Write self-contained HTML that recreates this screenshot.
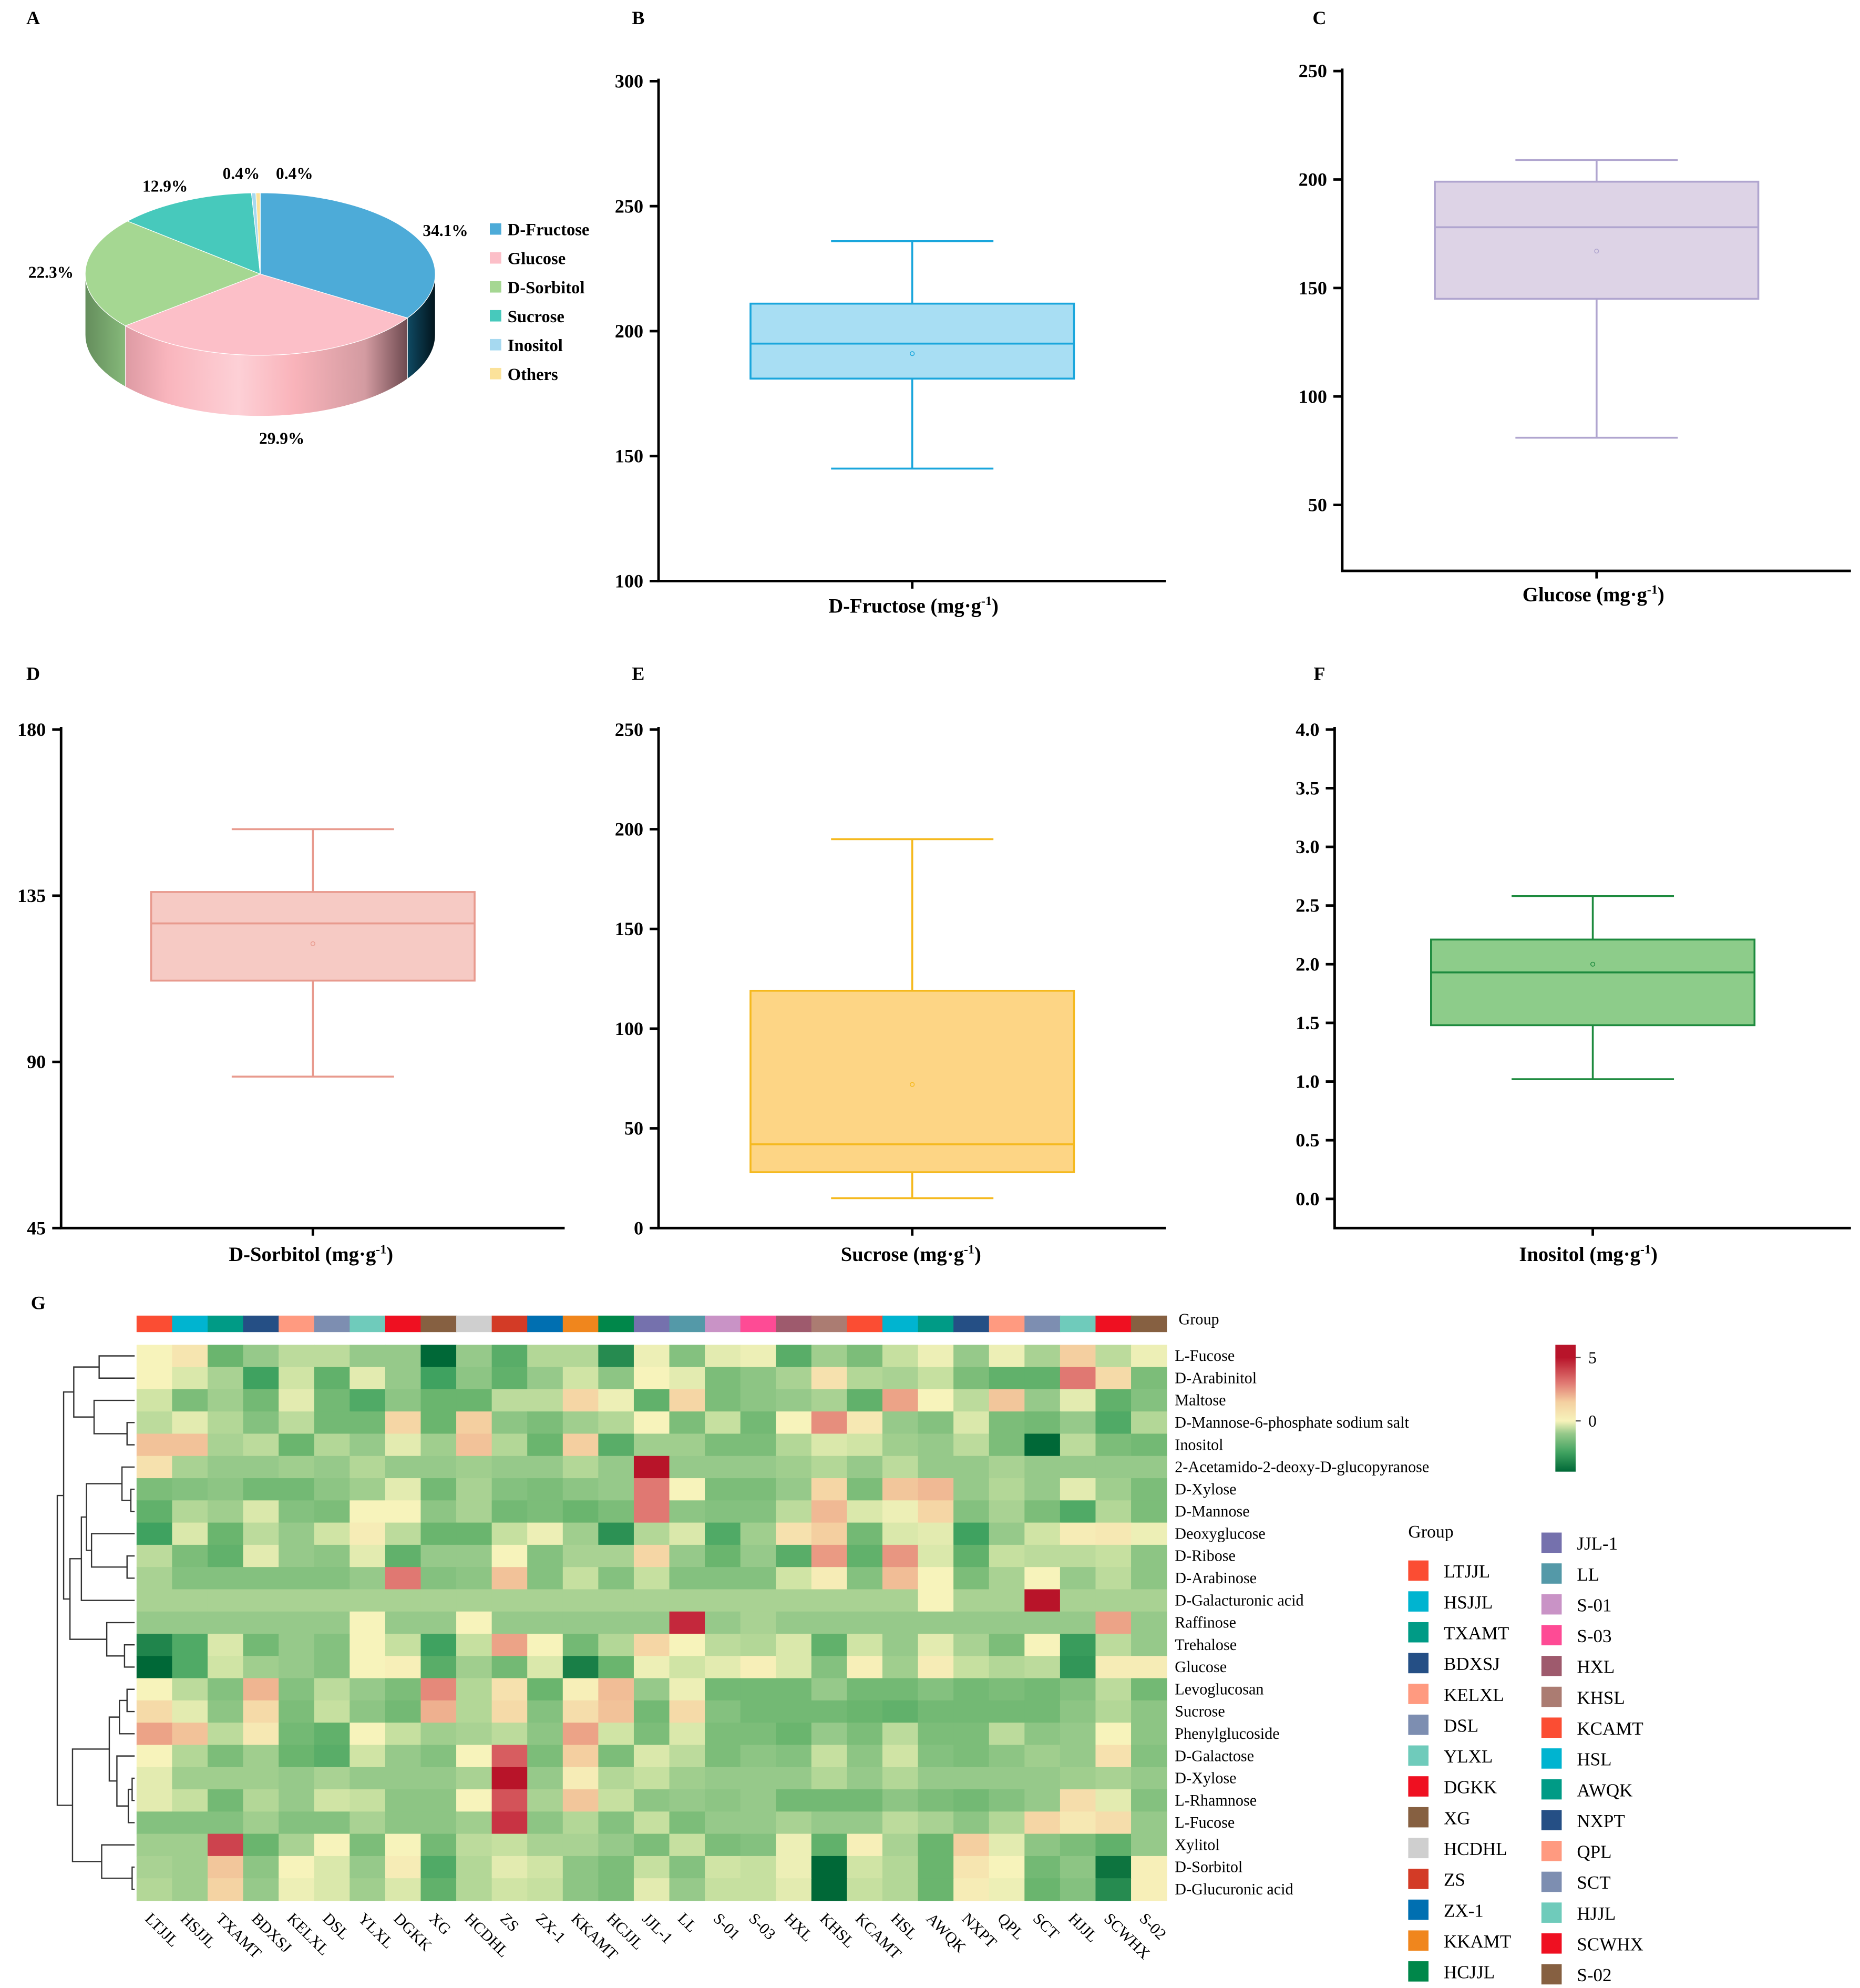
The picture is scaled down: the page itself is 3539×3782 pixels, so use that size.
<!DOCTYPE html>
<html><head><meta charset="utf-8">
<style>
html,body{margin:0;padding:0;background:#fff;}
svg{display:block;font-family:"Liberation Serif",serif;}
</style></head>
<body>
<svg id="fig" xmlns="http://www.w3.org/2000/svg" width="3539" height="3782" viewBox="0 0 1466 1567">
<defs>
<linearGradient id="gPink" x1="0" x2="1" y1="0" y2="0">
<stop offset="0" stop-color="#dd9aa3"/><stop offset="0.15" stop-color="#f9b5bd"/><stop offset="0.4" stop-color="#fdd0d6"/><stop offset="0.6" stop-color="#f9b3ba"/><stop offset="0.85" stop-color="#d39ba1"/><stop offset="1" stop-color="#6e4a50"/>
</linearGradient>
<linearGradient id="gBlue" x1="0" x2="1" y1="0" y2="0">
<stop offset="0" stop-color="#0f4a63"/><stop offset="1" stop-color="#02141c"/>
</linearGradient>
<linearGradient id="gGreen" x1="0" x2="1" y1="0" y2="0">
<stop offset="0" stop-color="#648d5c"/><stop offset="1" stop-color="#86b97a"/>
</linearGradient>
<linearGradient id="gBar" x1="0" x2="0" y1="0" y2="1">
<stop offset="0" stop-color="#b8142a"/><stop offset="0.1" stop-color="#b8142a"/><stop offset="0.3" stop-color="#e07872"/><stop offset="0.45" stop-color="#f4cfa0"/><stop offset="0.6" stop-color="#f7f3bb"/><stop offset="0.7" stop-color="#96c98a"/><stop offset="0.85" stop-color="#3fa260"/><stop offset="1" stop-color="#006837"/>
</linearGradient>
</defs>
<g id="root"></g>
</svg>
<script>
// ---------- Pie data ----------
const pieLabels = ["D-Fructose","Glucose","D-Sorbitol","Sucrose","Inositol","Others"];
const pieValues = [34.1, 29.9, 22.3, 12.9, 0.4, 0.4];
const pieColors = ["#4dabd8","#fcbfc8","#a5d792","#47c9bc","#a6d9f0","#fbe29a"];

// ---------- Box plot data ----------
const boxTitles = ["D-Fructose","Glucose","D-Sorbitol","Sucrose","Inositol"];
const boxMin = [145, 81, 86, 15, 1.02];
const boxQ1 = [181, 145, 112, 28, 1.48];
const boxMed = [195, 178, 127.5, 42, 1.93];
const boxQ3 = [211, 199, 136, 119, 2.21];
const boxMax = [236, 209, 153, 195, 2.58];
const boxMean = [191, 167, 122, 72, 2.0];
const boxTicksB = [100,150,200,250,300];
const boxTicksC = [50,100,150,200,250];
const boxTicksD = [45,90,135,180];
const boxTicksE = [0,50,100,150,200,250];
const boxTicksF = [0,0.5,1,1.5,2,2.5,3,3.5,4];

// ---------- Heatmap data ----------
const heatRows = ["L-Fucose","D-Arabinitol","Maltose","D-Mannose-6-phosphate sodium salt","Inositol","2-Acetamido-2-deoxy-D-glucopyranose","D-Xylose","D-Mannose","Deoxyglucose","D-Ribose","D-Arabinose","D-Galacturonic acid","Raffinose","Trehalose","Glucose","Levoglucosan","Sucrose","Phenylglucoside","D-Galactose","D-Xylose","L-Rhamnose","L-Fucose","Xylitol","D-Sorbitol","D-Glucuronic acid"];
const heatGroups = ["LTJJL","HSJJL","TXAMT","BDXSJ","KELXL","DSL","YLXL","DGKK","XG","HCDHL","ZS","ZX-1","KKAMT","HCJJL","JJL-1","LL","S-01","S-03","HXL","KHSL","KCAMT","HSL","AWQK","NXPT","QPL","SCT","HJJL","SCWHX","S-02"];
const groupColors = ["#fb4d33","#00b4d0","#009b86","#254f85","#ff9a80","#7d8eb1","#6fcbbb","#ef1021","#866041","#cfcfcf","#d33b26","#006fb1","#f0861d","#00874a","#7571ad","#5499a8","#c993c6","#fe4b95","#9e5a6d","#ab7c72","#fb4d33","#00b4d0","#009b86","#254f85","#ff9a80","#7d8eb1","#6fcbbb","#ef1021","#866041"];
const heatValues = [
[0,0.4,-1.5,-1,-0.6,-0.6,-1,-1,-3,-1,-1.7,-0.7,-0.7,-2.4,-0.1,-1.2,-0.2,-0.1,-1.7,-0.9,-1.3,-0.5,-0.1,-1,-0.1,-0.8,1.0,-0.6,-0.1],
[0,-0.3,-0.8,-2,-0.4,-1.6,-0.2,-1,-2,-1.1,-1.6,-1,-0.4,-1.1,0,-0.2,-1.3,-1.1,-0.8,0.5,-0.7,-0.8,-0.5,-1.3,-1.6,-1.6,3,0.7,-1.3],
[-0.4,-1.3,-0.9,-1.4,-0.2,-1.4,-1.8,-1.1,-1.5,-1.5,-0.6,-0.6,0.8,-0.1,-1.6,0.8,-1.3,-1.1,-1,-0.8,-1.6,2,0,-0.6,1.2,-1,-0.2,-1.6,-1.2],
[-0.6,-0.2,-0.7,-1.2,-0.6,-1.4,-1.4,0.8,-1.5,1,-1.1,-1.3,-0.9,-0.7,0,-1.3,-0.5,-1.4,0,2.5,0.3,-1,-1.2,-0.3,-1.3,-1.4,-1,-1.8,-0.7],
[1.3,1.3,-0.8,-0.6,-1.5,-0.7,-1,-0.2,-0.9,1.3,-0.7,-1.5,1,-1.7,-0.9,-0.9,-1.3,-1.3,-0.7,-0.3,-0.4,-0.9,-1,-0.6,-1.3,-3,-0.6,-1.3,-1.4],
[0.5,-0.8,-1,-1,-0.9,-1,-0.7,-1,-1,-0.9,-1,-1,-0.7,-1,5,-1,-1,-1,-0.9,-0.7,-1,-0.6,-1,-1,-0.8,-1,-1,-1,-1],
[-1.3,-1.2,-1.1,-1.4,-1.4,-1.1,-0.9,-0.2,-1.4,-0.8,-1.2,-1.3,-1.1,-1,3,0,-1.3,-1.3,-1,0.8,-1.3,1.2,1.5,-1,-0.7,-1,-0.2,-0.9,-1.3],
[-1.6,-0.7,-0.9,-0.3,-1.2,-1.3,0,0,-1.1,-0.8,-1.4,-1.3,-1.5,-1.3,3,-1.1,-1.2,-1.2,-0.6,1.5,-0.3,-0.1,0.8,-1.2,-0.8,-1.3,-1.8,-0.7,-1.3],
[-2,-0.3,-1.5,-0.6,-1,-0.4,0.2,-0.6,-1.5,-1.5,-0.5,-0.1,-0.9,-2.3,-0.7,-0.3,-1.8,-0.9,0.5,1,-1.4,-0.3,-0.2,-2,-1,-0.4,0.2,0.3,-0.1],
[-0.6,-1.3,-1.6,-0.2,-1,-1.1,-0.2,-1.6,-1,-1,0,-1.2,-0.8,-0.8,0.8,-1,-1.5,-1,-1.7,2.2,-1.6,2.3,-0.3,-1.6,-0.5,-0.6,-0.6,-0.5,-1.1],
[-0.8,-1.2,-1.2,-1.2,-1.2,-1.2,-1,3,-1.2,-1.1,1.3,-1.2,-0.5,-1.2,-0.5,-1.2,-1.2,-1.2,-0.4,0.2,-1.2,1.4,0,-1.3,-0.8,0,-1,-0.6,-1.1],
[-0.8,-0.8,-0.8,-0.8,-0.8,-0.8,-0.8,-0.8,-0.8,-0.8,-0.8,-0.8,-0.8,-0.8,-0.8,-0.8,-0.8,-0.8,-0.8,-0.8,-0.8,-0.8,0,-0.8,-0.8,5,-0.8,-0.8,-0.8],
[-1,-1,-1,-1,-1,-1,0,-1,-1,0,-1,-1,-1,-1,-1,4.5,-1,-0.8,-1,-1,-1,-1,-1,-1,-1,-1,-1,2,-1],
[-2.5,-1.8,-0.3,-1.4,-1,-1.2,0,-0.5,-2,-0.5,2,0,-1.4,-0.7,0.8,0,-0.6,-0.7,-0.3,-1.6,-0.4,-1,-0.2,-0.8,-1.3,0,-2.1,-0.6,-1],
[-3,-1.8,-0.4,-0.9,-1,-1.2,0,0.1,-1.7,-0.9,-1.4,-0.3,-2.6,-1.5,-0.1,-0.4,-0.2,0.1,-0.3,-1.2,0.1,-0.9,0.2,-0.5,-0.7,-0.6,-2.2,0.2,0.2],
[0,-0.6,-1.2,1.6,-1.2,-0.6,-1,-1.3,2.6,-0.7,0.5,-1.5,0.1,1.4,-1,-0.1,-1.4,-1.4,-1.4,-1,-1.4,-1.4,-1.2,-1.4,-1.3,-1.4,-1.2,-0.6,-1.4],
[0.7,-0.2,-1.1,0.7,-1.3,-0.5,-1.1,-1.4,1.7,-0.7,0.7,-1.2,0.6,1.3,-1.4,0.7,-1.2,-1.4,-1.4,-1.4,-1.5,-1.6,-1.4,-1.4,-1.4,-1.4,-1.1,-0.7,-1.1],
[2,1.3,-0.6,0.3,-1.4,-1.6,0,-0.5,-0.9,-0.8,-0.6,-1.1,2,-0.4,-1.3,-0.3,-1.3,-1.3,-1.5,-1,-1.3,-0.6,-1.3,-1.3,-0.6,-1.1,-1,0,-1.1],
[0,-0.7,-1.3,-0.9,-1.5,-1.7,-0.4,-1,-1.2,0,3.5,-1.3,1,-1.3,-0.3,-0.6,-1.3,-1.1,-1.2,-0.5,-1.1,-0.4,-1.2,-1.3,-1.1,-0.9,-1,0.5,-1.2],
[-0.2,-0.9,-0.9,-0.9,-1,-0.8,-1,-1,-1,-0.8,5,-1,0.2,-0.7,-0.5,-0.9,-1,-1,-1,-0.7,-1,-0.7,-1,-1,-1,-1,-0.9,-0.8,-1],
[-0.2,-0.5,-1.4,-0.7,-1,-0.4,-0.5,-1.1,-1.1,0,3.7,-0.8,1.2,-0.5,-1.1,-1,-1.1,-1,-1.4,-1.4,-1.4,-1.1,-1.3,-1.4,-1.2,-1,0.6,-0.2,-1.2],
[-1.2,-1.2,-1.2,-0.9,-1.2,-1.2,-0.8,-1.1,-1.1,-0.9,4.3,-1.1,-0.7,-1.2,-0.5,-1.3,-1,-1,-0.8,-1,-1,-0.6,-0.8,-1.1,-0.7,0.8,0.3,0.6,-1],
[-0.9,-0.9,4,-1.5,-0.8,0,-1.3,0,-1.4,-0.6,-0.5,-0.8,-0.8,-1,-1.3,-0.5,-1.3,-1.2,-0.1,-1.6,0.1,-0.8,-1.5,1,-0.2,-1.1,-1.3,-1.6,-1],
[-0.8,-0.9,1.2,-1.1,0,-0.3,-1,0.2,-1.8,-0.7,-0.2,-0.4,-1.1,-1.3,-0.5,-1.2,-0.4,-0.5,-0.1,-3,-0.4,-0.7,-1.5,0.4,0,-1.4,-1.1,-2.8,0.1],
[-0.7,-0.9,0.9,-1,-0.1,-0.3,-0.9,-0.3,-1.6,-0.7,-0.4,-0.5,-1.1,-1.3,-0.2,-1,-0.5,-0.5,-0.2,-3,-0.5,-0.7,-1.5,0.2,-0.1,-1.5,-1.2,-2.4,0.1]
];
const colorbarTicks = [0, 5];

const NS = "http://www.w3.org/2000/svg";
const root = document.getElementById("root");
function mk(tag, attrs, parent){
  const e = document.createElementNS(NS, tag);
  for (const k in attrs) e.setAttribute(k, attrs[k]);
  (parent || root).appendChild(e);
  return e;
}
function txt(x, y, s, size, anchor, bold, parent){
  const e = mk("text", {x:x, y:y, "font-size":size, "text-anchor":anchor||"start"}, parent);
  if (bold) e.setAttribute("font-weight","bold");
  e.textContent = s;
  return e;
}

const panelLetters = [["A",26,19],["B",503,19],["C",1040,19],["D",26,536],["E",503,536],["F",1040,536],["G",30,1032]];
panelLetters.forEach(p => {
  const e = txt(p[1], p[2], p[0], 15, "middle", true);
  
  
});

// ---------- Pie ----------
(function(){
  const cx = 205, cy = 216, rx = 138, ry = 64, depth = 48;
  const g = mk("g", {});
  
  
  const total = pieValues.reduce((a,b)=>a+b,0);
  const sideFills = ["url(#gBlue)","url(#gPink)","url(#gGreen)","#2f9a8e","#80b3c8","#c9b278"];
  let a = -90;
  const slices = [];
  pieValues.forEach((v,i)=>{ const a2 = a + v/total*360; slices.push([a,a2]); a = a2; });
  const P = (deg, dy) => { const r = deg*Math.PI/180; return [cx + rx*Math.cos(r), cy + ry*Math.sin(r) + (dy||0)]; };
  slices.forEach((s,i)=>{
    const lo = Math.max(s[0], 0), hi = Math.min(s[1], 180);
    if (hi <= lo) return;
    const p1 = P(lo), p2 = P(hi), p3 = P(hi, depth), p4 = P(lo, depth);
    const d = `M${p1[0]},${p1[1]} A${rx},${ry} 0 0 1 ${p2[0]},${p2[1]} L${p3[0]},${p3[1]} A${rx},${ry} 0 0 0 ${p4[0]},${p4[1]} Z`;
    const e = mk("path", {d:d, fill:sideFills[i], stroke:"#fff", "stroke-width":0.4}, g);
    
    
  });
  slices.forEach((s,i)=>{
    const p1 = P(s[0]), p2 = P(s[1]);
    const large = (s[1]-s[0]) > 180 ? 1 : 0;
    const d = `M${cx},${cy} L${p1[0]},${p1[1]} A${rx},${ry} 0 ${large} 1 ${p2[0]},${p2[1]} Z`;
    const e = mk("path", {d:d, fill:pieColors[i], stroke:"#fff", "stroke-width":0.5}, g);
    
    
  });
  const lblPos = [[351,186],[222,350],[40,219],[130,151],[190,141],[232,141]];
  pieValues.forEach((v,i)=>{
    const e = txt(lblPos[i][0], lblPos[i][1], v.toFixed(1)+"%", 13, "middle", true, g);
    
    
  });
  pieLabels.forEach((l,i)=>{
    const y = 181 + i*22.8;
    const r = mk("rect", {x:386, y:y-5, width:9, height:9, fill:pieColors[i]}, g);
    
    
    const t = txt(400, y+4.5, l, 13.5, "start", true, g);
    
    
  });
})();

// ---------- Box plots ----------
const boxPanels = [
  {i:0, ax:519, yTop:64, yBot:458, vTop:300, vBot:100, xEnd:919, ticks:boxTicksB, axisBottom:458, stroke:"#1aa6dc", fill:"#a8def3", dec:0, label:[720,483]},
  {i:1, ax:1058, yTop:56, yBot:398, vTop:250, vBot:50, xEnd:1459, ticks:boxTicksC, axisBottom:450, stroke:"#b0a5cf", fill:"#ddd3e6", dec:0, label:[1256,474]},
  {i:2, ax:48, yTop:575, yBot:968, vTop:180, vBot:45, xEnd:445, ticks:boxTicksD, axisBottom:968, stroke:"#e89a8e", fill:"#f6cac4", dec:0, label:[245,994]},
  {i:3, ax:519, yTop:575, yBot:968, vTop:250, vBot:0, xEnd:919, ticks:boxTicksE, axisBottom:968, stroke:"#f5b91e", fill:"#fdd585", dec:0, label:[718,994]},
  {i:4, ax:1052, yTop:575, yBot:945, vTop:4, vBot:0, xEnd:1459, ticks:boxTicksF, axisBottom:968, stroke:"#1d8a3e", fill:"#8dcc8a", dec:1, label:[1252,994]}
];
boxPanels.forEach(bp=>{
  const i = bp.i;
  const g = mk("g", {});
  
  
  const y = v => bp.yBot - (v - bp.vBot) / (bp.vTop - bp.vBot) * (bp.yBot - bp.yTop);
  const top = Math.min(y(bp.ticks[bp.ticks.length-1]), bp.yTop) - 2;
  const ya = mk("line", {x1:bp.ax, x2:bp.ax, y1:top, y2:bp.axisBottom, stroke:"#000", "stroke-width":2}, g);
  
  
  const xa = mk("line", {x1:bp.ax-1, x2:bp.xEnd, y1:bp.axisBottom, y2:bp.axisBottom, stroke:"#000", "stroke-width":2}, g);
  
  
  const cxm = (bp.ax + bp.xEnd)/2;
  const xt = mk("line", {x1:cxm, x2:cxm, y1:bp.axisBottom, y2:bp.axisBottom+6, stroke:"#000", "stroke-width":2}, g);
  
  
  bp.ticks.forEach(t=>{
    const ty = y(t);
    const l = mk("line", {x1:bp.ax-7, x2:bp.ax, y1:ty, y2:ty, stroke:"#000", "stroke-width":2}, g);
    
    
    const s = txt(bp.ax-12, ty+5, t.toFixed(bp.dec), 15, "end", true, g);
    
    
  });
  const bw = 255, bx = cxm - bw/2;
  const wl = mk("line", {x1:cxm, x2:cxm, y1:y(boxMax[i]), y2:y(boxMin[i]), stroke:bp.stroke, "stroke-width":1.5}, g);
  
  
  const box = mk("rect", {x:bx, y:y(boxQ3[i]), width:bw, height:y(boxQ1[i])-y(boxQ3[i]), fill:bp.fill, stroke:bp.stroke, "stroke-width":1.5}, g);
  
  
  const md = mk("line", {x1:bx, x2:bx+bw, y1:y(boxMed[i]), y2:y(boxMed[i]), stroke:bp.stroke, "stroke-width":1.5}, g);
  
  
  [boxMin[i], boxMax[i]].forEach(v=>{
    const c = mk("line", {x1:cxm-64, x2:cxm+64, y1:y(v), y2:y(v), stroke:bp.stroke, "stroke-width":1.5}, g);
    
    
  });
  const mn = mk("circle", {cx:cxm, cy:y(boxMean[i]), r:1.6, fill:"none", stroke:bp.stroke, "stroke-width":0.6}, g);
  
  
  const lab = mk("text", {x:bp.label[0], y:bp.label[1], "font-size":16, "font-weight":"bold", "text-anchor":"middle"}, g);
  
  
  lab.appendChild(document.createTextNode(boxTitles[i] + " (mg·g"));
  const sup = mk("tspan", {"font-size":10, dy:-6}, lab);
  sup.textContent = "-1";
  const cl = mk("tspan", {dy:6}, lab);
  cl.textContent = ")";
});

// ---------- Heatmap ----------
const hmX0 = 107.5, cellW = 28, hmY0 = 1060, cellH = 17.52;
const colX = j => hmX0 + j*cellW;
const rowY = r => hmY0 + r*cellH;
const stops = [[-3,[0,104,55]],[-2,[63,162,96]],[-1.5,[106,181,110]],[-1,[150,201,138]],[-0.5,[198,224,160]],[0,[247,243,187]],[1,[244,207,160]],[2,[236,163,135]],[3,[224,120,114]],[4.5,[196,40,60]],[5,[184,20,41]]];
function heatColor(v){
  if (v <= stops[0][0]) return `rgb(${stops[0][1].join(",")})`;
  for (let k=1;k<stops.length;k++){
    if (v <= stops[k][0]){
      const a = stops[k-1], b = stops[k], t = (v-a[0])/(b[0]-a[0]);
      const c = a[1].map((x,ii)=>Math.round(x + (b[1][ii]-x)*t));
      return `rgb(${c.join(",")})`;
    }
  }
  return `rgb(${stops[stops.length-1][1].join(",")})`;
}
(function(){
  const g = mk("g", {});
  
  
  heatGroups.forEach((name,j)=>{
    const r = mk("rect", {x:colX(j), y:1037, width:cellW+0.3, height:13, fill:groupColors[j]}, g);
    
    
  });
  const gt = txt(929, 1044, "Group", 12.5, "start", false, g);
  
  
  heatValues.forEach((row,r)=>{
    row.forEach((v,j)=>{
      const c = mk("rect", {x:colX(j), y:rowY(r), width:cellW+0.4, height:cellH+0.4, fill:heatColor(v)}, g);
      
      
    });
    const t = txt(926, rowY(r)+cellH/2+4, heatRows[r], 12.5, "start", false, g);
    
    
  });
  heatGroups.forEach((name,j)=>{
    const x = colX(j) + cellW/2 - 8, y0 = 1513;
    const t = mk("text", {x:x, y:y0, "font-size":12.5, transform:`rotate(45 ${x} ${y0})`}, g);
    t.textContent = name;
    
    
  });
})();

// Dendrogram
(function(){
  const g = mk("g", {stroke:"#333", "stroke-width":1, fill:"none"});
  
  
  const leafY = r => rowY(r) + cellH/2;
  const leafX = 106;
  function node(a, b, h){ return {a:a, b:b, h:h}; }
  function pos(n){
    if (typeof n === "number") return {x:leafX, y:leafY(n)};
    const pa = pos(n.a), pb = pos(n.b);
    const p = mk("path", {d:`M${pa.x},${pa.y} H${n.h} V${pb.y} H${pb.x}`}, g);
    
    
    return {x:n.h, y:(pa.y+pb.y)/2};
  }
  const c1 = node(node(0,1,78), node(2, node(3,4,100), 74), 58);
  const c2a = node(5, node(6,7,103), 96);
  const c2b = node(8, node(9,10,100), 72);
  const c2 = node(node(node(c2a, c2b, 68), 11, 64), node(12, node(13,14,98), 84), 55);
  const c3a = node(node(node(15,16,100), 17, 94), node(18, node(node(19,20,104), 21, 101), 92), 86);
  const c3 = node(c3a, node(22, node(23,24,104), 80), 57);
  const rootN = node(node(c1, c2, 50), c3, 45);
  pos(rootN);
})();

// Colorbar
(function(){
  const g = mk("g", {});
  
  
  const r = mk("rect", {x:1226, y:1060, width:16, height:100, fill:"url(#gBar)"}, g);
  
  
  const cy = v => 1120 - v*10;
  colorbarTicks.forEach(v=>{
    const l = mk("line", {x1:1242, x2:1246, y1:cy(v), y2:cy(v), stroke:"#555", "stroke-width":1}, g);
    
    
    const t = txt(1252, cy(v)+4.5, String(v), 13, "start", false, g);
    
    
  });
})();

// Group legend
(function(){
  const g = mk("g", {});
  
  
  const t = txt(1110, 1212, "Group", 14, "start", false, g);
  
  
  heatGroups.forEach((name,j)=>{
    let x, y;
    if (j < 14){ x = 1110; y = 1238 + j*24.3; } else { x = 1215; y = 1216 + (j-14)*24.3; }
    const r = mk("rect", {x:x, y:y-8, width:16, height:16, fill:groupColors[j]}, g);
    
    
    const s = txt(x+28, y+5.5, name, 14.5, "start", false, g);
    
    
  });
})();
</script>
</body></html>
